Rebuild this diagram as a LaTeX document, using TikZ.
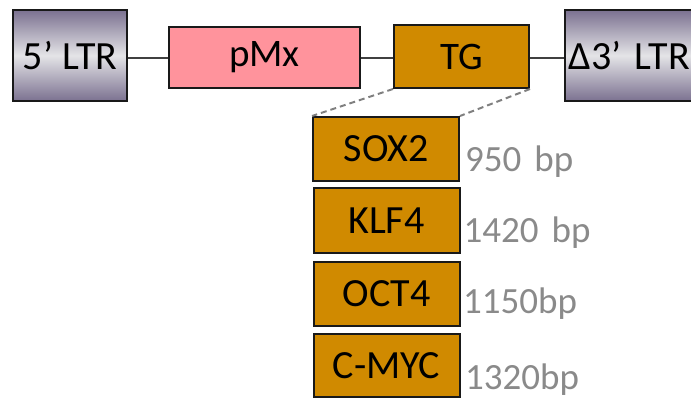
\documentclass[tikz,border=0pt]{standalone}
\usepackage{fontspec}
\setmainfont{Carlito}
\definecolor{ltrdark}{HTML}{7B7190}
\definecolor{ltrlight}{HTML}{E4E4E7}
\definecolor{pinkfill}{HTML}{FF939C}
\definecolor{ochre}{HTML}{D08A00}
\definecolor{bpgrey}{HTML}{8A8A8A}
\definecolor{linegrey}{HTML}{404040}
\definecolor{dashgrey}{HTML}{808080}
\tikzset{
  boxbase/.style={draw=black!90, line width=2pt, inner sep=0pt, rectangle},
  ltrbox/.style={boxbase, top color=ltrdark, bottom color=ltrdark, middle color=ltrlight, font=\fontsize{40}{42}\selectfont},
  pmxbox/.style={boxbase, fill=pinkfill, font=\fontsize{39}{41}\selectfont},
  tgbox/.style={boxbase, fill=ochre, font=\fontsize{39}{41}\selectfont},
  genebox/.style={boxbase, fill=ochre, minimum width=146pt, font=\fontsize{40}{42}\selectfont},
  bplabel/.style={anchor=base west, inner sep=0pt, text=bpgrey, font=\fontsize{37}{39}\selectfont},
  link/.style={draw=linegrey, line width=1.6pt},
  zoomline/.style={draw=dashgrey, line width=2pt, dash pattern=on 6pt off 4pt},
}
\begin{document}
\begin{tikzpicture}[x=1pt,y=-1pt]
\useasboundingbox (0,0) rectangle (691,398);
\clip (0,0) rectangle (691,398);
\node[ltrbox, minimum width=114pt, minimum height=91pt] (ltr5) at (70,55.5) {5’ LTR};
\node[pmxbox, minimum width=191pt, minimum height=61pt] (pmx) at (264.5,57.5) {pMx};
\node[tgbox, minimum width=135pt, minimum height=63pt] (tg) at (461.5,56.5) {TG};
\node[ltrbox, minimum width=135pt, minimum height=91pt, text width=130pt, align=left] (ltr3) at (632.5,55.5) {\hspace*{1pt}Δ3’ LTR};
\node[genebox, minimum height=64pt] (sox2) at (386,149) {SOX2};
\node[genebox, minimum height=65pt] (klf4) at (386.5,220.5) {KLF4};
\node[genebox, minimum height=64pt] (oct4) at (386.5,294) {OCT4};
\node[genebox, minimum height=63pt] (cmyc) at (386.5,365.5) {C-MYC};
\draw[link] (ltr5.east |- 0,58) -- (pmx.west |- 0,58);
\draw[link] (pmx.east |- 0,58) -- (tg.west |- 0,58);
\draw[link] (tg.east |- 0,58) -- (ltr3.west |- 0,58);
\draw[zoomline] (tg.south west) -- (sox2.north west);
\draw[zoomline] (tg.south east) -- (sox2.north east);
\node[bplabel] (bp1) at (465,171.5) {950\hspace{0.35em}bp};
\node[bplabel] (bp2) at (463.5,243) {1420\hspace{0.35em}bp};
\node[bplabel] (bp3) at (463,313) {1150bp};
\node[bplabel] (bp4) at (465,389) {1320bp};
\end{tikzpicture}
\end{document}
